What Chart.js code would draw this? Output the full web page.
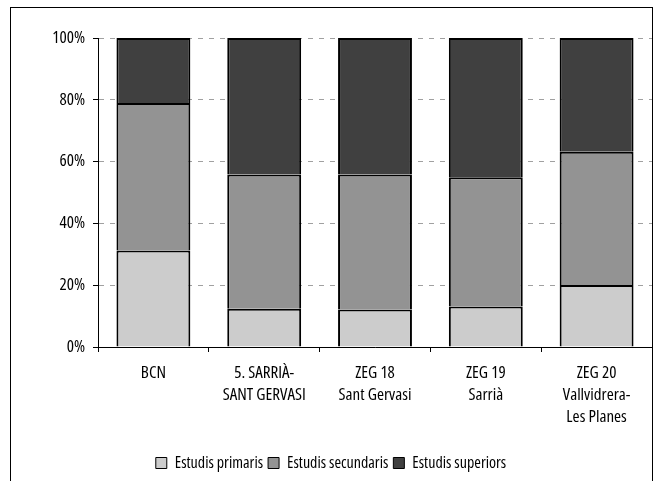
<!DOCTYPE html>
<html>
<head>
<meta charset="utf-8">
<script src="https://cdn.jsdelivr.net/npm/chart.js@4/dist/chart.umd.min.js"></script>
<style>
  html, body { margin: 0; padding: 0; background: #fff; }
  #wrap { width: 655px; height: 481px; }
</style>
</head>
<body>
<div id="wrap"><canvas id="eduChart" width="655" height="481"></canvas></div>
<script>
// Dades (percentatges llegits del gràfic)
const categories = [
  ['BCN'],
  ['5. SARRIÀ-', 'SANT GERVASI'],
  ['ZEG 18', 'Sant Gervasi'],
  ['ZEG 19', 'Sarrià'],
  ['ZEG 20', 'Vallvidrera-', 'Les Planes']
];
const primaris   = [31.2, 12.4, 12.1, 13.1, 20.1];
const secundaris = [47.8, 43.4, 43.7, 41.8, 43.1];
const superiors  = [21.0, 44.2, 44.2, 45.1, 36.8];
const yTicks = [0, 20, 40, 60, 80, 100];

// Open Sans estreta (el "weight" passa tal qual al ctx.font com a font-stretch)
const FONT = "'Open Sans', 'Liberation Sans', sans-serif";
const axisFont = { family: FONT, size: 17, weight: 'condensed' };

// marc exterior
const frame = {
  id: 'frame',
  afterDraw(chart) {
    const ctx = chart.ctx;
    ctx.save();
    ctx.strokeStyle = '#000';
    ctx.lineWidth = 1;
    ctx.strokeRect(10.5, 7.5, 642, 490);
    ctx.restore();
  }
};

const mkSet = (label, data, color) => ({
  label: label,
  data: data,
  backgroundColor: color,
  borderColor: '#000',
  borderWidth: 2,
  categoryPercentage: 1,
  barPercentage: 0.667
});

new Chart(document.getElementById('eduChart'), {
  type: 'bar',
  data: {
    labels: categories,
    datasets: [
      mkSet('Estudis primaris', primaris, '#cccccc'),
      mkSet('Estudis secundaris', secundaris, '#939393'),
      mkSet('Estudis superiors', superiors, '#404040')
    ]
  },
  options: {
    responsive: false,
    animation: false,
    layout: { padding: { left: 10, right: 3, top: 38, bottom: 0 } },
    plugins: {
      tooltip: { enabled: false },
      legend: {
        position: 'bottom',
        labels: {
          color: '#000',
          font: { family: FONT, size: 16, weight: 'condensed' },
          boxWidth: 11,
          boxHeight: 11,
          padding: 5,
          generateLabels: chart => Chart.defaults.plugins.legend.labels.generateLabels(chart)
            .map(l => Object.assign(l, { lineWidth: 1 }))
        }
      }
    },
    scales: {
      x: {
        stacked: true,
        offset: true,
        grid: { offset: true, drawOnChartArea: false, tickLength: 5, color: '#000' },
        border: { color: '#000', width: 1 },
        ticks: {
          color: '#000',
          font: Object.assign({ lineHeight: 1.3 }, axisFont),
          padding: 10,
          maxRotation: 0,
          autoSkip: false
        },
        afterFit: s => { s.height = 103; }
      },
      y: {
        stacked: true,
        min: 0,
        max: 100,
        afterBuildTicks: s => { s.ticks = yTicks.map(v => ({ value: v })); },
        grid: { color: '#a0a0a0', tickColor: '#000', tickLength: 5, tickBorderDash: [] },
        border: { color: '#000', width: 1, dash: [5, 6] },
        ticks: {
          color: '#000',
          font: axisFont,
          padding: 8,
          callback: v => v + '%'
        },
        afterFit: s => { s.width = 88; }
      }
    }
  },
  plugins: [frame]
});
</script>
</body>
</html>
